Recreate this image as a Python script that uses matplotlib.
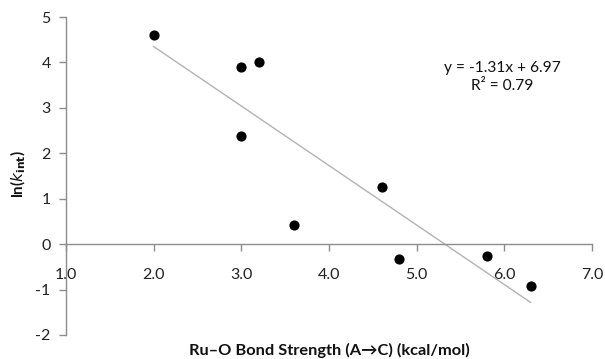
import matplotlib
matplotlib.use("Agg")
import matplotlib.pyplot as plt
import numpy as np

plt.rcParams['font.family'] = ['Lato', 'DejaVu Sans']

bond_strength = [2.0, 3.0, 3.2, 3.0, 3.6, 4.6, 4.8, 5.8, 6.3]
ln_kint = [4.6, 3.9, 4.0, 2.38, 0.43, 1.25, -0.33, -0.27, -0.93]
slope = -1.31
intercept = 6.97
r2 = 0.79
xticks = [1.0, 2.0, 3.0, 4.0, 5.0, 6.0, 7.0]
yticks = [-2, -1, 0, 1, 2, 3, 4, 5]

fig = plt.figure(figsize=(6.05, 3.59), dpi=100)
ax = fig.add_axes([66/605, 1-335/359, (592-66)/605, (335-17)/359])

axis_col = '#8c8c8c'
xs = np.array([min(bond_strength), max(bond_strength)])
ax.plot(xs, slope*xs + intercept, color='#b3b3b3', lw=1.0, zorder=2)
ax.scatter(bond_strength, ln_kint, s=40, color='black', zorder=3)

ax.set_xlim(1, 7)
ax.set_ylim(-2, 5)
ax.spines['top'].set_visible(False)
ax.spines['right'].set_visible(False)
ax.spines['bottom'].set_position(('data', 0))
for s in ['left', 'bottom']:
    ax.spines[s].set_color(axis_col)
    ax.spines[s].set_linewidth(1.0)
ax.set_xticks(xticks)
ax.set_xticklabels([f"{v:.1f}" for v in xticks])
ax.set_yticks(yticks)
ax.set_yticklabels([str(v) for v in yticks])
ax.tick_params(axis='both', colors=axis_col, labelcolor='#222222', labelsize=11.5, length=5, width=1.0)
ax.tick_params(axis='x', pad=12)
ax.tick_params(axis='y', pad=6)

fig.text(329/605, 1-350/359, 'Ru–O Bond Strength (A→C) (kcal/mol)', ha='center', va='center',
         fontsize=11.8, fontweight='bold', color='#111111')
fig.text(18/605, 1-174/359, r'ln($\mathbf{\mathit{k}}_{\mathbf{int}}$)', ha='center', va='center',
         rotation=90, fontsize=11, fontweight='bold', color='#111111')

ax.text(502/605, 1-68/359, f'y = {slope:.2f}x + {intercept:.2f}', transform=fig.transFigure,
        ha='center', va='center', fontsize=11.2, color='#111111')
ax.text(502/605, 1-86/359, f'R² = {r2:.2f}', transform=fig.transFigure,
        ha='center', va='center', fontsize=11.2, color='#111111')

fig.savefig('out.png', dpi=100)
